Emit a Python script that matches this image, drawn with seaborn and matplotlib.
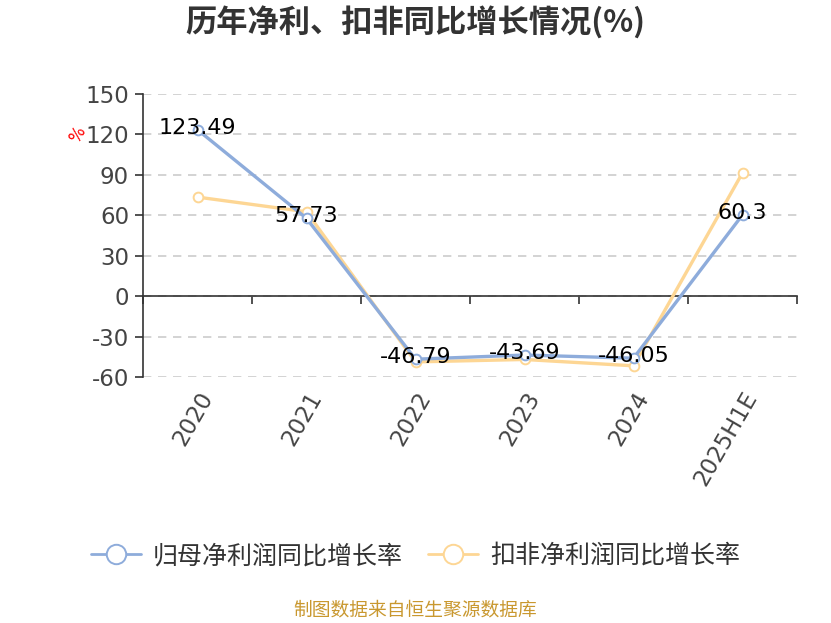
import pandas as pd
import numpy as np
import seaborn as sns
from matplotlib import pyplot as plt
from matplotlib.lines import Line2D

years = ['2020', '2021', '2022', '2023', '2024', '2025H1E']
net_profit_yoy = [123.49, 57.73, -46.79, -43.69, -46.05, 60.3]
deducted_yoy = [73.5, 62.6, -48.8, -47.0, -51.7, 91.5]
series_names = ['归母净利润同比增长率', '扣非净利润同比增长率']
colors = ['#8eacdb', '#fdd694']

sns.set_style('white')
plt.rcParams['font.family'] = ['Noto Sans CJK SC', 'DejaVu Sans']
plt.rcParams['axes.unicode_minus'] = False

df = pd.DataFrame({
    'year': years * 2,
    'value': net_profit_yoy + deducted_yoy,
    'series': [series_names[0]] * 6 + [series_names[1]] * 6,
})

fig = plt.figure(figsize=(8.31, 6.23), dpi=100)
ax = fig.add_axes([143 / 831, 1 - 377 / 623, (797 - 143) / 831, (377 - 94) / 623])

sns.lineplot(data=df, x='year', y='value', hue='series', palette=colors,
             sort=False, lw=2.4, marker='o', markersize=7, markerfacecolor='white',
             markeredgewidth=1.4, ax=ax, legend=False)
for line, c in zip(ax.lines, colors):
    line.set_markeredgecolor(c)
ax.lines[0].set_zorder(4)
ax.lines[1].set_zorder(3)

num_font = ['DejaVu Sans']
for i, v in enumerate(net_profit_yoy):
    ax.text(i, v + 1.5, f'{v:g}', ha='center', va='center', fontsize=16,
            color='black', zorder=5, family=num_font)

ax.set_xlim(-0.5, 5.5)
ax.set_ylim(-60, 150)
ax.set_yticks(np.arange(-60, 151, 30))
ax.yaxis.grid(True, color='#cccccc', ls=(0, (5, 4)), lw=1.2)
ax.set_axisbelow(True)

for s in ['top', 'right']:
    ax.spines[s].set_visible(False)
ax.spines['left'].set_color('#333333')
ax.spines['left'].set_linewidth(1.2)
ax.spines['bottom'].set_position(('data', 0))
ax.spines['bottom'].set_color('#333333')
ax.spines['bottom'].set_linewidth(1.2)

ax.set_xticks(np.arange(len(years)))
ax.set_xticklabels(years, rotation=60, ha='right', rotation_mode='anchor')
ax.set_xticks(np.arange(-0.5, 6, 1), minor=True)
ax.tick_params(axis='x', which='major', length=0, pad=66, labelsize=16.5, labelcolor='#444444')
ax.tick_params(axis='x', which='minor', bottom=True, length=6, width=1.2, color='#333333',
               direction='out')
ax.tick_params(axis='y', length=6, width=1.2, color='#333333', labelsize=16.5,
               labelcolor='#444444', pad=4, left=True)
for lab in ax.get_xticklabels() + ax.get_yticklabels():
    lab.set_family(num_font)
ax.set_xlabel('')
ax.set_ylabel('')

fig.text(78 / 831, 1 - 135 / 623, '%', color='red', rotation=60, fontsize=12,
         ha='center', va='center', family=num_font)

fig.text(0.5, 1 - 23 / 623, '历年净利、扣非同比增长情况(%)', ha='center', va='center',
         fontsize=22.5, fontweight='bold', color='#333333')

handles = [Line2D([0], [0], color=c, lw=2, marker='o', markersize=14, markerfacecolor='white',
                  markeredgecolor=c, markeredgewidth=1.4) for c in colors]
fig.legend(handles, series_names, loc='center', bbox_to_anchor=(0.5, 1 - 556 / 623), ncol=2,
           frameon=False, fontsize=18, handlelength=2.0, columnspacing=1.0, handletextpad=0.5,
           labelcolor='#333333')

fig.text(0.5, 1 - 610 / 623, '制图数据来自恒生聚源数据库', ha='center', va='center',
         fontsize=13.5, color='#c9982f')

fig.savefig('out.png', dpi=100)
